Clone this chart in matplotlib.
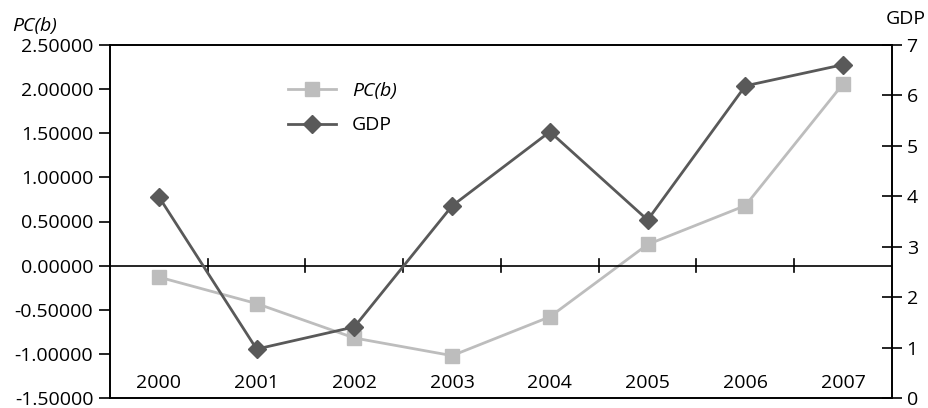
import numpy as np
import matplotlib.pyplot as plt

plt.rcParams['font.family'] = ['Open Sans', 'DejaVu Sans']

years = ['2000', '2001', '2002', '2003', '2004', '2005', '2006', '2007']
pcb = [-0.13, -0.43, -0.82, -1.02, -0.58, 0.24, 0.68, 2.06]
gdp = [3.99, 0.97, 1.41, 3.81, 5.28, 3.53, 6.19, 6.61]

light = '#bdbdbd'
dark = '#595959'

fig = plt.figure(figsize=(9.29, 4.08), dpi=100)
ax = fig.add_axes([110 / 929, 10 / 408, 782 / 929, 353 / 408])
ax2 = ax.twinx()

x = np.arange(len(years))
l1, = ax.plot(x, pcb, color=light, lw=2, marker='s', ms=10, label='PC(b)')
l2, = ax2.plot(x, gdp, color=dark, lw=2, marker='D', ms=9, label='GDP')

ax.set_xlim(-0.5, len(years) - 0.5)
ax.set_ylim(-1.5, 2.5)
ax.set_yticks(np.arange(-1.5, 2.51, 0.5))
ax.set_yticklabels(['%.5f' % v for v in np.arange(-1.5, 2.51, 0.5)])
ax2.set_ylim(0, 7)
ax2.set_yticks(range(0, 8))

# category axis sits at zero, ticks between categories
ax.axhline(0, color='black', lw=1.2)
for i in range(1, len(years)):
    ax.plot([i - 0.5, i - 0.5], [-0.07, 0.07], color='black', lw=1.2)
ax.set_xticks([])
for i, yr in enumerate(years):
    ax.text(i, -1.33, yr, ha='center', va='center', fontsize=14)

for a in (ax, ax2):
    for s in a.spines.values():
        s.set_linewidth(1.2)
ax.tick_params(axis='y', direction='out', length=8, width=1.2, labelsize=14, pad=4)
ax2.tick_params(axis='y', direction='inout', length=14, width=1.2, labelsize=14)

fig.text(12 / 929, 1 - 26 / 408, 'PC(b)', style='italic', fontsize=14, va='center', ha='left')
fig.text(926 / 929, 1 - 19 / 408, 'GDP', fontsize=14, va='center', ha='right')

leg = ax.legend([l1, l2], ['PC(b)', 'GDP'], loc='upper left', bbox_to_anchor=(0.205, 0.945),
                frameon=False, fontsize=14, handlelength=2.5, labelspacing=0.85)
leg.get_texts()[0].set_style('italic')

fig.savefig('out.png', dpi=100)
